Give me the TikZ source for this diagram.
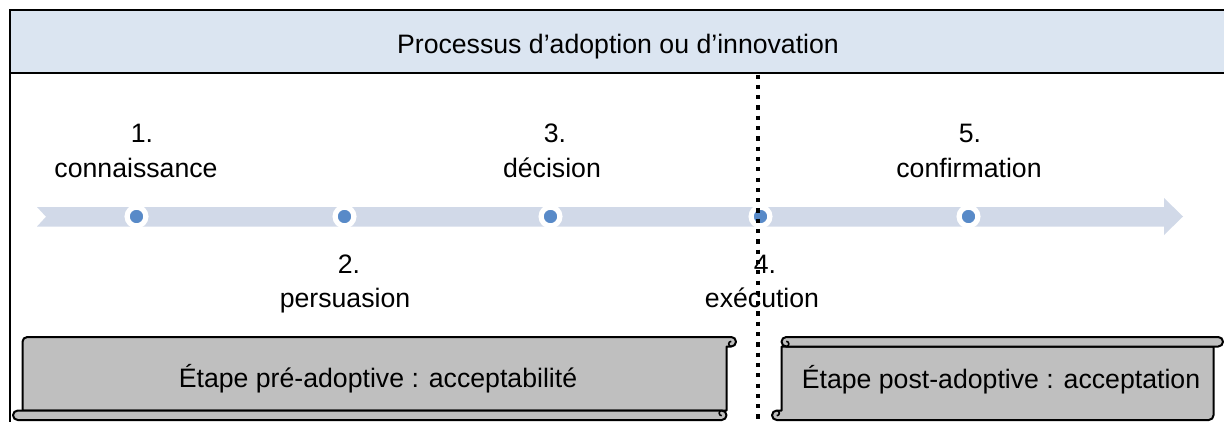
\documentclass[tikz,border=0pt]{standalone}
\usepackage{fontspec}
\setmainfont{Liberation Sans}
\definecolor{hdr}{HTML}{DBE5F1}
\definecolor{arr}{HTML}{D1D9E8}
\definecolor{dotb}{HTML}{588AC8}
\definecolor{scr}{HTML}{BFBFBF}
\tikzset{
  scrollline/.style={draw=black, line width=2pt, fill=scr, line join=round},
  curlline/.style={draw=black, line width=1.6pt},
  dotn/.style={circle, fill=dotb, draw=white, line width=5.2pt, minimum size=18.8pt, inner sep=0pt},
  lbl/.style={anchor=base, inner sep=0pt, font=\fontsize{26.67}{32}\selectfont},
}
% standard horizontal scroll: #1=L #2=T #3=R #4=B (y downwards)
\newcommand\myscroll[4]{%
  \draw[scrollline] ({#1+9.5},{#2+9.5}) -- ({#3-9.5},{#2+9.5}) -- ({#3-9.5},{#4-4.75})
     arc[start angle=0,end angle=90,radius=4.75] -- ({#1+4.75},#4)
     arc[start angle=90,end angle=270,radius=4.75] -- ({#1+9.5},{#4-9.5}) -- cycle;
  \draw[curlline] ({#1+4.75},{#4-9.5}) arc[start angle=-90,end angle=90,radius=2.6];
  \draw[scrollline, rounded corners=4.75pt] ({#1+9.5},#2) rectangle (#3,{#2+9.5});
  \draw[curlline] ({#1+14.25},{#2+9.5}) arc[start angle=90,end angle=-90,radius=2.6];
}
\begin{document}
\begin{tikzpicture}[x=1pt,y=-1pt]
\useasboundingbox (0,0) rectangle (1224,421);
% header band
\fill[hdr] (9.5,10) rectangle (1240,72.5);
\draw[line width=2pt] (1240,10) -- (9.5,10) -- (9.5,430);
\draw[line width=2pt] (9.5,72.5) -- (1240,72.5);
\node[lbl] (title) at (618,53) {Processus d’adoption ou d’innovation};
% timeline arrow
\fill[arr] (37,207) -- (1164,207) -- (1164,198) -- (1183,216.5) -- (1164,235)
  -- (1164,226.5) -- (37,226.5) -- (46,216.75) -- cycle;
\node[dotn] (d1) at (136.5,216.5) {};
\node[dotn] (d2) at (344.5,216.5) {};
\node[dotn] (d3) at (550.5,216.5) {};
\node[dotn] (d4) at (760.5,216.5) {};
\node[dotn] (d5) at (968.5,216.5) {};
% separator
\draw[line width=4.4pt, dash pattern=on 4.2pt off 6.1pt] (758,74.5) -- (758,421);
% labels
\node[lbl] (n1) at (142,142) {1.};
\node[lbl] (w1) at (136,177) {connaissance};
\node[lbl] (n3) at (555,142) {3.};
\node[lbl] (w3) at (552,177) {décision};
\node[lbl] (n5) at (970,142) {5.};
\node[lbl] (w5) at (969,177) {confirmation};
\node[lbl] (n2) at (349,273) {2.};
\node[lbl] (w2) at (345,307) {persuasion};
\node[lbl] (n4) at (765,273) {4.};
\node[lbl] (w4) at (762,307) {exécution};
% scrolls
\begin{scope}[rotate around={180:(374.5,378.5)}]
\myscroll{13}{337}{736}{420}
\end{scope}
\myscroll{772}{337}{1223}{420}
\node[lbl] (pre) at (378,387) {Étape pré-adoptive : acceptabilité};
\node[lbl] (post) at (1001,388) {Étape post-adoptive : acceptation};
\end{tikzpicture}
\end{document}
